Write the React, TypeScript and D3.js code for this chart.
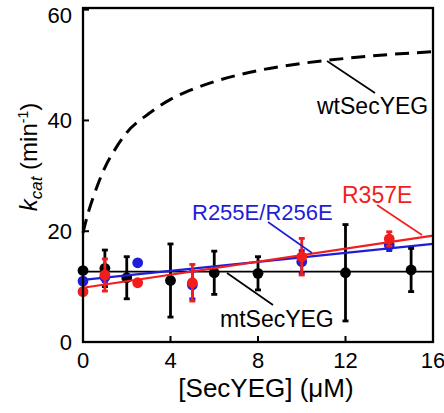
import React from "react";
import * as d3 from "d3";

const xTicks = [0, 4, 8, 12, 16];
const yTicks = [0, 20, 40, 60];

// wtSecYEG dashed curve
const wtX = [0, 0.25, 0.5, 1, 1.5, 2, 3, 4, 5, 6, 8, 10, 12, 14, 16];
const wtY = [19.7, 23.5, 26.5, 31.5, 35, 37.8, 41.2, 43.8, 45.6, 47, 49, 50.3, 51.2, 51.9, 52.4];

// mtSecYEG (black)
const mtX = [0, 1, 2, 4, 6, 8, 12, 15];
const mtY = [12.9, 13.3, 11.6, 11.1, 12.5, 12.4, 12.5, 13.0];
const mtErr = [0, 3.3, 3.8, 6.6, 3.9, 3.0, 8.7, 3.9];
const mtFitX = [0, 16];
const mtFitY = [12.7, 12.7];

// R255E/R256E (blue)
const bX = [0, 1, 2.5, 5, 10, 14];
const bY = [11.0, 11.7, 14.3, 10.3, 14.5, 17.5];
const bErr = [0, 0.8, 0, 2.5, 2.0, 1.0];
const bFitX = [0, 16];
const bFitY = [11.2, 17.7];

// R357E (red)
const rX = [0, 1, 2.5, 5, 10, 14];
const rY = [9.1, 12.1, 10.7, 10.7, 15.4, 18.6];
const rErr = [0, 2.9, 0, 3.3, 3.3, 1.3];
const rFitX = [0, 16];
const rFitY = [9.8, 19.2];

const RED = "#f21d1d";
const BLUE = "#1e1ed8";
const FONT = "'Liberation Sans', Arial, sans-serif";

export default function App() {
  const L = 83, R = 433, T = 8, B = 342;
  const x = d3.scaleLinear().domain([0, 16]).range([L, R]);
  const y = d3.scaleLinear().domain([0, 60.3]).range([B, T]);

  const line = d3
    .line<[number, number]>()
    .x((d) => x(d[0]))
    .y((d) => y(d[1]));
  const curve = d3
    .line<[number, number]>()
    .x((d) => x(d[0]))
    .y((d) => y(d[1]))
    .curve(d3.curveMonotoneX);

  const zip = (a: number[], b: number[]) => a.map((v, i) => [v, b[i]] as [number, number]);

  const series = (xs: number[], ys: number[], errs: number[], color: string, key: string) => (
    <g key={key}>
      {xs.map((xv, i) =>
        errs[i] > 0 ? (
          <g key={i} stroke={color} strokeWidth={2.8}>
            <line x1={x(xv)} x2={x(xv)} y1={y(ys[i] - errs[i])} y2={y(ys[i] + errs[i])} />
            <line x1={x(xv) - 3} x2={x(xv) + 3} y1={y(ys[i] + errs[i])} y2={y(ys[i] + errs[i])} />
            <line x1={x(xv) - 3} x2={x(xv) + 3} y1={y(ys[i] - errs[i])} y2={y(ys[i] - errs[i])} />
          </g>
        ) : null
      )}
      {xs.map((xv, i) => (
        <circle key={"c" + i} cx={x(xv)} cy={y(ys[i])} r={5.4} fill={color} />
      ))}
    </g>
  );

  return (
    <svg
      width={444}
      height={413}
      style={{ position: "absolute", left: 0, top: 0, background: "#fff" }}
      fontFamily={FONT}
    >
      <rect x={0} y={0} width={444} height={413} fill="#fff" />

      {/* wt dashed curve */}
      <path
        d={curve(zip(wtX, wtY)) || ""}
        fill="none"
        stroke="#000"
        strokeWidth={3}
        strokeDasharray="14 8"
      />

      {/* fit lines */}
      <path d={line(zip(mtFitX, mtFitY)) || ""} stroke="#000" strokeWidth={1.8} fill="none" />

      {series(mtX, mtY, mtErr, "#000", "mt")}
      {series(bX, bY, bErr, BLUE, "b")}
      <path d={line(zip(bFitX, bFitY)) || ""} stroke={BLUE} strokeWidth={2.2} fill="none" />
      {series(rX, rY, rErr, RED, "r")}
      <path d={line(zip(rFitX, rFitY)) || ""} stroke={RED} strokeWidth={2.2} fill="none" />

      {/* annotation pointers */}
      <line x1={327} y1={61} x2={375} y2={93} stroke="#000" strokeWidth={1.6} />
      <line x1={227} y1={273} x2={273} y2={305} stroke="#000" strokeWidth={1.6} />
      <line x1={268} y1={222} x2={312} y2={253} stroke={BLUE} strokeWidth={1.6} />
      <line x1={377} y1={205} x2={422} y2={235} stroke={RED} strokeWidth={1.6} />

      {/* annotation labels */}
      <text x={317} y={114} fontSize={23} fill="#000">wtSecYEG</text>
      <text x={220} y={327} fontSize={23} fill="#000">mtSecYEG</text>
      <text x={192} y={220} fontSize={22} fill={BLUE}>R255E/R256E</text>
      <text x={342} y={203} fontSize={23} fill={RED}>R357E</text>

      {/* frame */}
      <rect x={L} y={T} width={R - L} height={B - T} fill="none" stroke="#000" strokeWidth={2.3} />

      {/* ticks */}
      {xTicks.map((t) => (
        <g key={"xt" + t}>
          <line x1={x(t)} x2={x(t)} y1={B} y2={B - 6} stroke="#000" strokeWidth={2} />
          <text x={x(t)} y={368} fontSize={22} textAnchor="middle">{t}</text>
        </g>
      ))}
      {yTicks.map((t) => (
        <g key={"yt" + t}>
          <line x1={L} x2={L + 6} y1={y(t)} y2={y(t)} stroke="#000" strokeWidth={2} />
          <text x={72} y={Math.max(y(t), 15)} dy="0.36em" fontSize={22} textAnchor="end">{t}</text>
        </g>
      ))}

      {/* axis titles */}
      <text x={266} y={397} fontSize={26} textAnchor="middle">[SecYEG] (μM)</text>
      <text transform="translate(37,157) rotate(-90)" fontSize={24} textAnchor="middle">
        <tspan fontStyle="italic">k</tspan>
        <tspan fontStyle="italic" fontSize={17} dy={5}>cat</tspan>
        <tspan dy={-5}> (min</tspan>
        <tspan fontSize={14} dy={-9}>-1</tspan>
        <tspan dy={9}>)</tspan>
      </text>
    </svg>
  );
}
